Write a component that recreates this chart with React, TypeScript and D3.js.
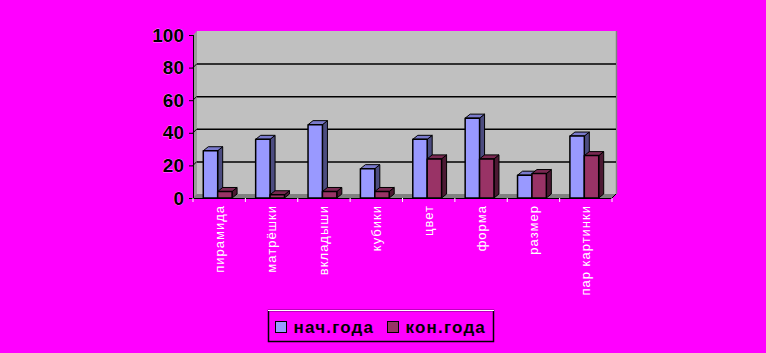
import React from "react";
import * as d3 from "d3";

const categories = ["пирамида", "матрёшки", "вкладыши", "кубики", "цвет", "форма", "размер", "пар картинки"];
const startValues = [29, 36, 45, 18, 36, 49, 14, 38];
const endValues = [4, 2, 4, 4, 24, 24, 15, 26];
const seriesNames = ["нач.года", "кон.года"];
const yTicks = [0, 20, 40, 60, 80, 100];

const W = 766;
const H = 353;
const DX = 4; // wall depth offset
const DY = 4;
const BDX = 5; // bar depth offset
const BDY = 4;
const BAR_SHIFT = -1.5; // bars sit slightly forward-left of the category centre

const series = [
  { name: seriesNames[0], values: startValues, front: "#9999FF", side: "#4C4C80", top: "#7A7ACC" },
  { name: seriesNames[1], values: endValues, front: "#993366", side: "#4C1933", top: "#7A2952" },
];

export default function App() {
  const x0 = 193;
  const x1 = 612;
  const y = d3.scaleLinear().domain([0, 100]).range([198, 35]);
  const xBand = d3.scaleBand<string>().domain(categories).range([x0, x1]).paddingInner(0.45).paddingOuter(0.225);
  const xSub = d3.scaleBand<number>().domain([0, 1]).range([0, xBand.bandwidth()]);
  const step = xBand.step();
  const yBase = y(0);
  const yTop = y(100);

  const boundaries = d3.range(categories.length + 1).map((i) => x0 + i * step);

  return (
    <svg width={W} height={H} style={{ position: "absolute", left: 0, top: 0, display: "block" }}>
      <rect x={0} y={0} width={W} height={H} fill="#FF00FF" />

      {/* back wall */}
      <rect x={x0 + DX} y={yTop - DY} width={x1 - x0} height={yBase - yTop} fill="#C0C0C0" />
      <line x1={x1 + DX + 0.5} x2={x1 + DX + 0.5} y1={yTop - DY} y2={yBase - DY} stroke="#808080" strokeWidth={1.5} />
      {/* left side wall */}
      <polygon
        points={`${x0},${yTop} ${x0 + DX},${yTop - DY} ${x0 + DX},${yBase - DY} ${x0},${yBase}`}
        fill="#9A9A9A"
      />
      {/* floor */}
      <polygon
        points={`${x0},${yBase} ${x0 + DX},${yBase - DY} ${x1 + DX},${yBase - DY} ${x1},${yBase}`}
        fill="#808080"
      />

      {/* gridlines on back wall */}
      {yTicks
        .filter((t) => t > 0 && t < 100)
        .map((t) => (
          <g key={`g${t}`}>
            <line x1={x0} x2={x0 + DX} y1={y(t)} y2={y(t) - DY} stroke="#000" strokeWidth={1} />
            <line x1={x0 + DX} x2={x1 + DX} y1={y(t) - DY + 0.5} y2={y(t) - DY + 0.5} stroke="#000" strokeWidth={1.5} />
          </g>
        ))}

      {/* bars */}
      {categories.map((c, i) =>
        series.map((s, si) => {
          const bx = (xBand(c) as number) + (xSub(si) as number) + BAR_SHIFT;
          const bw = xSub.bandwidth();
          const by = y(s.values[i]);
          return (
            <g key={`${c}-${si}`} stroke="#000" strokeWidth={1} strokeLinejoin="round">
              <polygon
                points={`${bx + bw},${by} ${bx + bw + BDX},${by - BDY} ${bx + bw + BDX},${yBase - BDY} ${bx + bw},${yBase}`}
                fill={s.side}
              />
              <polygon
                points={`${bx},${by} ${bx + BDX},${by - BDY} ${bx + bw + BDX},${by - BDY} ${bx + bw},${by}`}
                fill={s.top}
              />
              <rect x={bx} y={by} width={bw} height={yBase - by} fill={s.front} strokeWidth={1.5} />
            </g>
          );
        })
      )}

      {/* y axis */}
      <line x1={x0 + 0.5} x2={x0 + 0.5} y1={yTop} y2={yBase} stroke="#000" strokeWidth={1} />
      {yTicks.map((t) => (
        <g key={`t${t}`}>
          <line x1={x0 - 4} x2={x0} y1={y(t) + 0.5} y2={y(t) + 0.5} stroke="#000" strokeWidth={1} />
          <text
            x={184}
            y={y(t)}
            textAnchor="end"
            dominantBaseline="central"
            fontFamily="Liberation Sans, Arial, sans-serif"
            fontWeight="bold"
            fontSize={19}
            fill="#000"
            stroke="#fff"
            strokeWidth={0.4}
            paintOrder="stroke"
          >
            {t}
          </text>
        </g>
      ))}

      {/* x axis */}
      <line x1={x0 - 3} x2={x1} y1={yBase + 0.5} y2={yBase + 0.5} stroke="#000" strokeWidth={1} />
      <line x1={x1} x2={x1 + DX} y1={yBase} y2={yBase - DY} stroke="#000" strokeWidth={1} />
      {boundaries.map((bx, i) => (
        <line key={`xt${i}`} x1={bx} x2={bx} y1={yBase} y2={yBase + 4} stroke="#fff" strokeWidth={1} />
      ))}
      {categories.map((c) => {
        const cx = (xBand(c) as number) + xBand.bandwidth() / 2;
        return (
          <text
            key={`l${c}`}
            transform={`translate(${cx},205) rotate(-90)`}
            textAnchor="end"
            dominantBaseline="central"
            fontFamily="Liberation Sans, Arial, sans-serif"
            fontSize={13}
            letterSpacing={1}
            fill="#fff"
          >
            {c}
          </text>
        );
      })}

      {/* legend */}
      <rect x={268.5} y={310.5} width={225} height={31} fill="#FF00FF" stroke="#000" strokeWidth={1.5} />
      <line x1={268} x2={494} y1={310.5} y2={310.5} stroke="#fff" strokeWidth={1} />
      {series.map((s, si) => {
        const lx = si === 0 ? 275.5 : 387.5;
        return (
          <g key={`lg${si}`}>
            <rect x={lx} y={321.5} width={11} height={11} fill={s.front} stroke="#000" strokeWidth={1} />
            <text
              x={lx + 18}
              y={327}
              dominantBaseline="central"
              fontFamily="Liberation Sans, Arial, sans-serif"
              fontWeight="bold"
              fontSize={17}
              letterSpacing={1.2}
              fill="#000"
            >
              {s.name}
            </text>
          </g>
        );
      })}
    </svg>
  );
}
